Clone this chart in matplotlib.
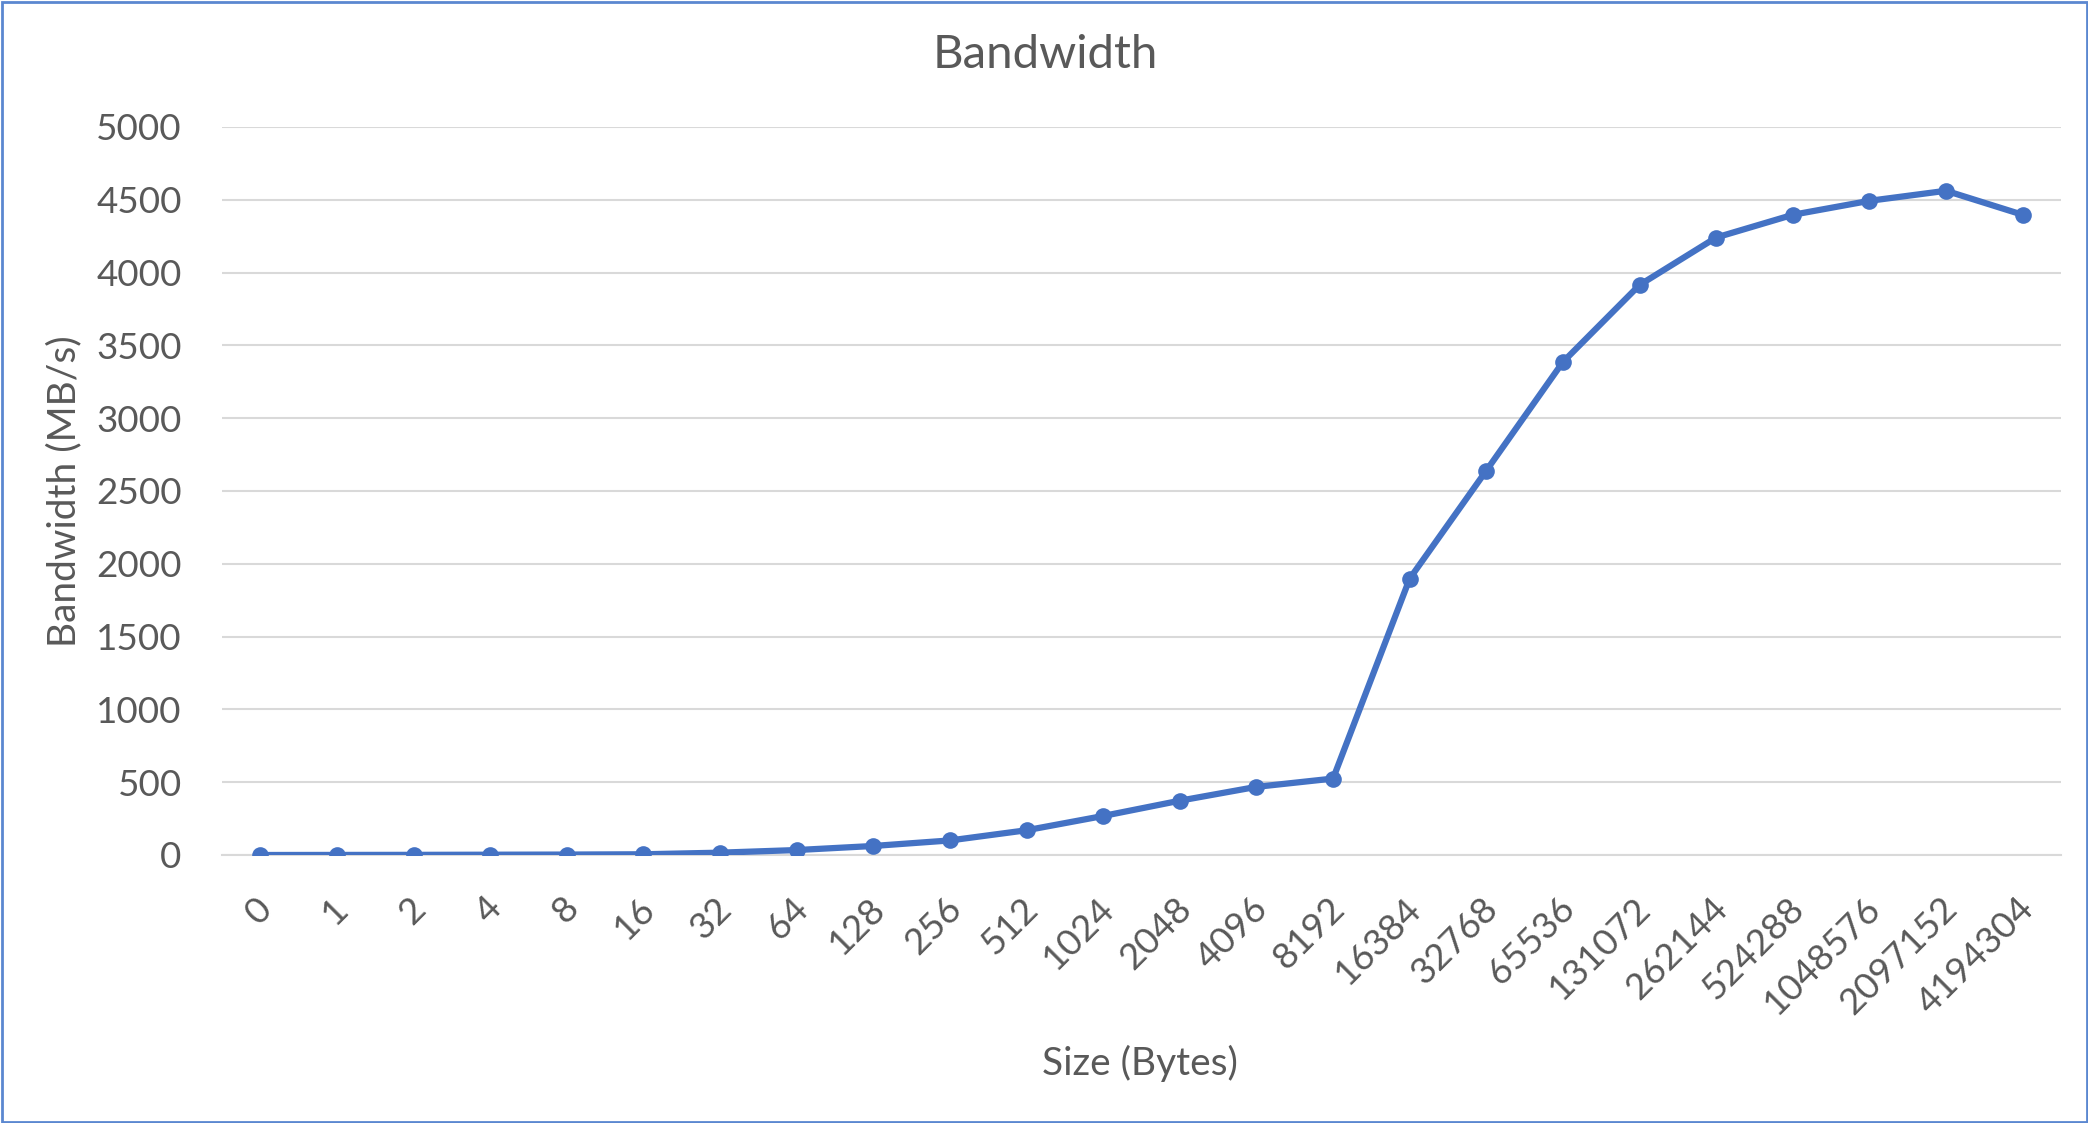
import matplotlib
matplotlib.use("Agg")
import matplotlib.pyplot as plt
from matplotlib.patches import Rectangle
from matplotlib.transforms import ScaledTranslation

# Transfer size (bytes) and measured bandwidth (MB/s)
sizes = ["0", "1", "2", "4", "8", "16", "32", "64", "128", "256", "512", "1024",
         "2048", "4096", "8192", "16384", "32768", "65536", "131072", "262144",
         "524288", "1048576", "2097152", "4194304"]
bandwidth = [0, 0.5, 1, 2, 3, 5, 16, 34, 62, 100, 170, 268,
             373, 468, 525, 1898, 2640, 3386, 3915, 4241,
             4397, 4493, 4562, 4397]

y_ticks = [0, 500, 1000, 1500, 2000, 2500, 3000, 3500, 4000, 4500, 5000]

TEXT = "#595959"
LINE = "#4472C4"
GRID = "#D9D9D9"
FONT = "Lato"

W, H = 2088, 1123
fig = plt.figure(figsize=(W / 100, H / 100), dpi=100)
fig.patch.set_facecolor("white")

left, right, bottom, top = 222, 2061, 855, 127
ax = fig.add_axes([left / W, 1 - bottom / H, (right - left) / W, (bottom - top) / H])

x = list(range(len(sizes)))
ax.plot(x, bandwidth, color=LINE, lw=4.5, marker="o", markersize=12,
        markeredgewidth=0, solid_joinstyle="round", zorder=3)

ax.set_xlim(-0.5, len(sizes) - 0.5)
ax.set_ylim(0, 5000)
ax.set_yticks(y_ticks)
ax.set_yticklabels([str(v) for v in y_ticks], fontsize=26.5, color=TEXT, family=FONT)
ax.grid(axis="y", color=GRID, lw=1.5)
ax.set_axisbelow(True)
for s in ["top", "right", "left"]:
    ax.spines[s].set_visible(False)
ax.spines["bottom"].set_color(GRID)
ax.spines["bottom"].set_linewidth(1.5)
ax.tick_params(axis="y", length=0, pad=29)
ax.tick_params(axis="x", length=0, pad=0)

ax.set_xticks(x)
ax.set_xticklabels(sizes, fontsize=26.5, color=TEXT, family=FONT,
                   rotation=45, ha="right", va="center", rotation_mode="anchor")
shift = ScaledTranslation(6 / 100, -48 / 100, fig.dpi_scale_trans)
for lbl in ax.get_xticklabels():
    lbl.set_transform(lbl.get_transform() + shift)

fig.text(1045 / W, 1 - 55 / H, "Bandwidth", ha="center", va="center",
         fontsize=34, color=TEXT, family=FONT)
fig.text(1140 / W, 1 - 1063 / H, "Size (Bytes)", ha="center", va="center",
         fontsize=28, color=TEXT, family=FONT)
fig.text(64 / W, 1 - 491 / H, "Bandwidth (MB/s)", ha="center", va="center",
         rotation=90, fontsize=28, color=TEXT, family=FONT)

# Chart frame
fig.patches.append(Rectangle((1.5 / W, 1.5 / H), (W - 3) / W, (H - 3) / H,
                             transform=fig.transFigure, fill=False,
                             edgecolor="#5B87D0", lw=2))

fig.savefig("out.png", dpi=100, facecolor="white")
